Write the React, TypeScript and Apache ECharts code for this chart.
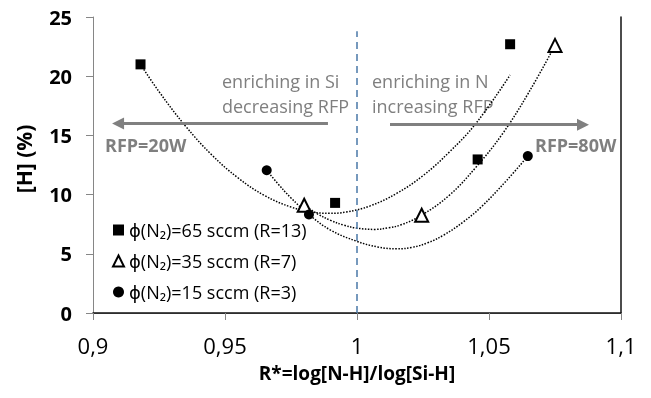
import React, { useEffect, useRef } from 'react';
import * as echarts from 'echarts';

// Measured points [R*, H%]
const seriesNames = ['ϕ(N₂)=65 sccm (R=13)', 'ϕ(N₂)=35 sccm (R=7)', 'ϕ(N₂)=15 sccm (R=3)'];
const sq65 = [[0.918, 21.0], [0.9917, 9.3], [1.0457, 12.97], [1.058, 22.7]];
const tri35 = [[0.98, 9.1], [1.0245, 8.26], [1.075, 22.6]];
const dot15 = [[0.9658, 12.06], [0.9818, 8.32], [1.0647, 13.25]];

// Polynomial trendlines
const trend65 = [[0.918, 21.0], [0.925, 18.7], [0.935, 15.8], [0.945, 13.35], [0.955, 11.4], [0.965, 9.92], [0.975, 8.95], [0.983, 8.53], [0.9895, 8.42], [0.996, 8.53], [1.005, 9.05], [1.015, 10.1], [1.025, 11.6], [1.035, 13.6], [1.045, 16.0], [1.058, 20.1]];
const trend35 = [[0.98, 9.1], [0.985, 8.38], [0.99, 7.82], [0.995, 7.42], [1.0, 7.17], [1.0065, 7.06], [1.012, 7.2], [1.017, 7.47], [1.0245, 8.26], [1.035, 9.95], [1.045, 12.3], [1.055, 15.1], [1.065, 18.6], [1.075, 22.6]];
const trend15 = [[0.9658, 12.06], [0.97, 10.93], [0.975, 9.72], [0.9818, 8.32], [0.99, 7.0], [1.0, 6.05], [1.008, 5.57], [1.015, 5.42], [1.021, 5.55], [1.027, 5.95], [1.033, 6.6], [1.04, 7.65], [1.047, 8.95], [1.0567, 11.2], [1.0647, 13.25]];

// Annotation guides (data coordinates)
const dividerX = 1.0;
const dividerTop = 23.8;
const leftArrow = [[0.989, 16], [0.9095, 16]];
const rightArrow = [[1.0125, 15.9], [1.0856, 15.9]];

const FONT = "'Open Sans', 'DejaVu Sans', sans-serif";
const GRAY = '#7f7f7f';

function fmt(v: number) {
  return String(+v.toFixed(2)).replace('.', ',');
}

export default function App() {
  const ref = useRef<HTMLDivElement>(null);
  useEffect(() => {
    const chart = echarts.init(ref.current!, null, { renderer: 'svg' });
    const trendStyle = { color: '#000', width: 1.5, type: [1.5, 1.5] as any };
    const option: any = {
      animation: false,
      grid: { left: 93, right: 30, top: 17, bottom: 85, outerBoundsMode: 'none' },
      legend: {
        data: seriesNames,
        orient: 'vertical',
        left: 107,
        top: 215,
        itemWidth: 11,
        itemHeight: 11,
        itemGap: 11,
        textStyle: { fontSize: 18, color: '#000', fontFamily: FONT, lineHeight: 20 },
      },
      xAxis: [
        {
          type: 'value', min: 0.9, max: 1.1, interval: 0.05, position: 'bottom',
          axisLine: { show: true, lineStyle: { color: '#868686', width: 1 } },
          axisTick: { show: true, length: 7, lineStyle: { color: '#868686' } },
          axisLabel: { margin: 21, fontSize: 22, color: '#000', fontFamily: FONT, formatter: fmt },
          splitLine: { show: false },
          name: 'R*=log[N-H]/log[Si-H]', nameLocation: 'middle', nameGap: 50,
          nameTextStyle: { fontWeight: 'bold', fontSize: 19, color: '#000', fontFamily: FONT },
        },
        {
          type: 'value', min: 0.9, max: 1.1, position: 'top',
          axisLine: { show: true, lineStyle: { color: '#111', width: 1.5 } },
          axisTick: { show: false }, axisLabel: { show: false }, splitLine: { show: false },
        },
      ],
      yAxis: [
        {
          type: 'value', min: 0, max: 25, interval: 5, position: 'left',
          axisLine: { show: true, lineStyle: { color: '#868686', width: 1 } },
          axisTick: { show: true, length: 7, lineStyle: { color: '#868686' } },
          axisLabel: { margin: 21, fontSize: 20, fontWeight: 'bold', color: '#000', fontFamily: FONT },
          splitLine: { show: false },
        },
        {
          type: 'value', min: 0, max: 25, position: 'right',
          axisLine: { show: true, lineStyle: { color: '#111', width: 1.5 } },
          axisTick: { show: false }, axisLabel: { show: false }, splitLine: { show: false },
        },
      ],
      series: [
        { type: 'line', name: 'trend65', data: trend65, smooth: 0.4, showSymbol: false, symbol: 'none', lineStyle: trendStyle, silent: true, z: 2 },
        { type: 'line', name: 'trend35', data: trend35, smooth: 0.4, showSymbol: false, symbol: 'none', lineStyle: trendStyle, silent: true, z: 2 },
        { type: 'line', name: 'trend15', data: trend15, smooth: 0.4, showSymbol: false, symbol: 'none', lineStyle: trendStyle, silent: true, z: 2 },
        {
          type: 'scatter', name: 'guides', data: [], silent: true, z: 1,
          markLine: {
            silent: true,
            symbol: ['none', 'none'],
            label: { show: false },
            data: [
              [
                { coord: [dividerX, 0], lineStyle: { color: '#4a78a8', width: 1.5, type: [7, 5] } },
                { coord: [dividerX, dividerTop] },
              ],
              [
                { coord: leftArrow[0], symbol: 'none', lineStyle: { color: '#808080', width: 3, type: 'solid' } },
                { coord: leftArrow[1], symbol: 'triangle', symbolSize: [12, 12] },
              ],
              [
                { coord: rightArrow[0], symbol: 'none', lineStyle: { color: '#808080', width: 3, type: 'solid' } },
                { coord: rightArrow[1], symbol: 'triangle', symbolSize: [12, 12] },
              ],
            ],
          },
        },
        { type: 'scatter', name: seriesNames[0], data: sq65, symbol: 'rect', symbolSize: 10, itemStyle: { color: '#000', opacity: 1 }, z: 5 },
        { type: 'scatter', name: seriesNames[1], data: tri35, symbol: 'triangle', symbolSize: 13, itemStyle: { color: '#fff', borderColor: '#000', borderWidth: 2, opacity: 1 }, z: 5 },
        { type: 'scatter', name: seriesNames[2], data: dot15, symbol: 'circle', symbolSize: 10, itemStyle: { color: '#000', opacity: 1 }, z: 5 },
      ],
      graphic: [
        { type: 'text', x: 24, y: 159, rotation: Math.PI / 2, style: { text: '[H] (%)', font: `bold 21px ${FONT}`, fill: '#000', align: 'center', verticalAlign: 'middle', textAlign: 'center', textVerticalAlign: 'middle' } },
        { type: 'text', left: 222, top: 72, style: { text: 'enriching in Si', font: `18px ${FONT}`, fill: GRAY } },
        { type: 'text', left: 222, top: 97, style: { text: 'decreasing RFP', font: `18px ${FONT}`, fill: GRAY } },
        { type: 'text', left: 372, top: 72, style: { text: 'enriching in N', font: `18px ${FONT}`, fill: GRAY } },
        { type: 'text', left: 372, top: 97, style: { text: 'increasing RFP', font: `18px ${FONT}`, fill: GRAY } },
        { type: 'text', left: 105, top: 136, style: { text: 'RFP=20W', font: `bold 18px ${FONT}`, fill: GRAY } },
        { type: 'text', left: 535, top: 136, style: { text: 'RFP=80W', font: `bold 18px ${FONT}`, fill: GRAY } },
      ],
    };
    chart.setOption(option);
    return () => chart.dispose();
  }, []);
  return <div ref={ref} style={{ position: 'fixed', left: 0, top: 0, width: 651, height: 398 }} />;
}
